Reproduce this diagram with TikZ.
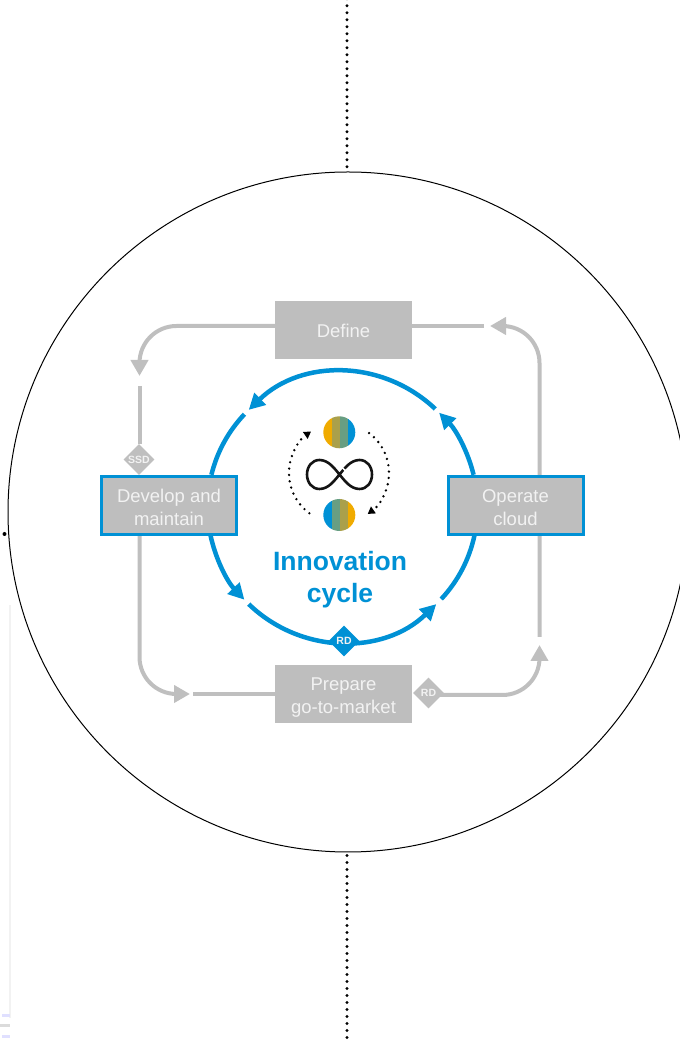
\documentclass[tikz,border=0pt]{standalone}
\usepackage{fontspec}
\setmainfont{Liberation Sans}
\usetikzlibrary{arrows.meta,shapes.geometric,calc}
\definecolor{sapblue}{HTML}{0091D5}
\definecolor{boxgray}{HTML}{BEBEBE}
\definecolor{linegray}{HTML}{BFBFBF}
\definecolor{boxtext}{HTML}{F2F2F2}
\newcommand{\boxlines}[2]{\raisebox{\dimexpr-#1pt-4.5pt\relax}[0pt][0pt]{\parbox[c]{130pt}{\centering #2}}}
\tikzset{
  x=1pt,y=1pt,
  stagebox/.style={rectangle,fill=boxgray,text=boxtext,inner sep=0pt,outer sep=0pt,align=center,minimum width=137pt,minimum height=58pt,font=\fontsize{18.5}{23}\selectfont},
  activebox/.style={stagebox,draw=sapblue,line width=3pt,minimum width=135pt},
  gline/.style={draw=linegray,line width=4pt},
  gtip/.style={gline,-{Triangle[length=16pt,width=17pt,fill=linegray]},rounded corners=37pt},
  bline/.style={draw=sapblue,line width=4.5pt},
  btip/.style={bline,-{Triangle[length=16pt,width=16pt,fill=sapblue]}},
  tag/.style={diamond,aspect=1,inner sep=0pt,minimum width=31pt,minimum height=31pt,text=boxtext,font=\bfseries\fontsize{10.5}{10.5}\selectfont},
  vdots/.style={draw=black,line width=3.2pt,line cap=round,dash pattern=on 0pt off 7pt},
  cdots/.style={draw=black,line width=2.6pt,line cap=round,dash pattern=on 0pt off 6.4pt},
  ctip/.style={cdots,-{Triangle[length=7pt,width=8pt,fill=black]}},
}
\begin{document}
\begin{tikzpicture}
\useasboundingbox (0,0) rectangle (680,1042);
\clip (0,0) rectangle (680,1042);
% stray fragments at the left edge
\fill[black] (4.5,508) circle (2);
\draw[color=black!5,line width=1.5pt] (10,437) -- (10,24);
\fill[blue!12] (2,25) rectangle (10,28);
\fill[black!14] (0,15) rectangle (10,18);
\fill[blue!12] (2,4) rectangle (10,7);
% outer ring and dotted lines
\node[circle,draw=black,line width=1pt,inner sep=0pt,minimum size=680pt] (ring) at (348,530) {};
\coordinate (vtop) at (347,1043.3);
\coordinate (vbot) at (347,0);
\draw[vdots] (vtop) -- (vtop |- ring.north);
\draw[vdots] ([yshift=-3pt]vbot |- ring.south) -- (vbot);
% nodes
\coordinate (bc) at (342.5,535);
\coordinate (a1) at ([shift={(13.8:135)}]bc);
\coordinate (a2) at ([shift={(44.3:135)}]bc);
\coordinate (a3) at ([shift={(46.6:135)}]bc);
\coordinate (a4) at ([shift={(134:135)}]bc);
\coordinate (a5) at ([shift={(136.6:135)}]bc);
\coordinate (a6) at ([shift={(166.2:135)}]bc);
\coordinate (a7) at ([shift={(191.8:135)}]bc);
\coordinate (a8) at ([shift={(223.4:135)}]bc);
\coordinate (a9) at ([shift={(226:135)}]bc);
\coordinate (a10) at ([shift={(314:135)}]bc);
\coordinate (a11) at ([shift={(317:135)}]bc);
\coordinate (a12) at ([shift={(348:135)}]bc);
% blue cycle
\draw[btip] (a1) to[bend right=15.25,looseness=.87] (a2);
\draw[btip] (a3) to[bend right=43.7] (a4);
\draw[bline] (a5) to[bend right=14.8,looseness=.87] (a6);
\draw[btip] (a7) to[bend right=15.8,looseness=.87] (a8);
\draw[btip] (a9) to[bend right=44] (a10);
\draw[bline] (a11) to[bend right=15.5,looseness=.87] (a12);
% grey flow end points
\coordinate (d1) at (275,716);
\coordinate (t1) at (139.5,666);
\coordinate (s2) at (139.5,656);
\coordinate (s3) at (139.5,507);
\coordinate (t3) at (190,348);
\coordinate (s4) at (193,348);
\coordinate (e5) at (440,347);
\coordinate (t5) at (539.5,397);
\coordinate (s6) at (539.5,405);
\coordinate (t6) at (490,716);
\coordinate (s7) at (484,716);
\coordinate (d2) at (412,716);
\coordinate (e2) at (139.5,536);
\node[tag,fill=linegray] (ssd) at (139,582.5) {SSD};
\node[tag,fill=linegray] (rdg) at (428.5,349) {RD};
\draw[gtip] (d1) -| (t1);
\draw[gline] (s2) -- (ssd.north -| s2);
\draw[gline] (ssd.south -| s2) -- (e2);
\draw[gtip] (s3) |- (t3);
\draw[gline] (s4) -- (275,348);
\draw[gtip] (e5) -| (t5);
\draw[gtip] (s6) |- (t6);
\draw[gline] (s7) -- (d2);
\node[stagebox] (def) at (343.5,712) {\boxlines{1}{Define}};
\node[activebox] (dev) at (169,536.5) {\boxlines{2}{Develop and\\maintain}};
\node[activebox] (op) at (515.5,536.5) {\boxlines{2}{Operate\\cloud}};
\node[stagebox] (pre) at (343.5,348) {\boxlines{3.5}{Prepare\\go-to-market}};
\node[tag,fill=sapblue] (rdb) at (344,401) {RD};
% title
\node[text=sapblue,align=center,font=\bfseries\fontsize{26.5}{32}\selectfont] (title) at (340,462) {Innovation\\cycle};
% infinity
\begin{scope}[shift={(339.5,567.5)}]
\draw[color=black!92,line width=2.6pt] (0,0) .. controls (5,6) and (11,14.5) .. (20,14.5) .. controls (27.5,14.5) and (32.5,8) .. (32.5,0) .. controls (32.5,-8) and (27.5,-14.5) .. (20,-14.5) .. controls (11,-14.5) and (5,-6) .. (0,0) .. controls (-5,6) and (-11,14.5) .. (-20,14.5) .. controls (-27.5,14.5) and (-32.5,8) .. (-32.5,0) .. controls (-32.5,-8) and (-27.5,-14.5) .. (-20,-14.5) .. controls (-11,-14.5) and (-5,-6) .. (0,0) -- cycle;
\draw[white,line width=1.5pt] (2,7.5) -- (6.8,3);
\end{scope}
% striped discs
\begin{scope}
\clip (339.3,609.7) circle (16);
\fill[color={rgb,255:red,240;green,171;blue,0}] (323,593) rectangle (331.5,626);
\fill[color={rgb,255:red,170;green,160;blue,75}] (331.5,593) rectangle (339.5,626);
\fill[color={rgb,255:red,104;green,158;blue,130}] (339.5,593) rectangle (347.5,626);
\fill[color=sapblue] (347.5,593) rectangle (356,626);
\end{scope}
\begin{scope}
\clip (339.3,527) circle (16);
\fill[color=sapblue] (323,510) rectangle (331.5,544);
\fill[color={rgb,255:red,104;green,158;blue,130}] (331.5,510) rectangle (339.5,544);
\fill[color={rgb,255:red,170;green,160;blue,75}] (339.5,510) rectangle (347.5,544);
\fill[color={rgb,255:red,240;green,171;blue,0}] (347.5,510) rectangle (356,544);
\end{scope}
% dotted circular arrows
\coordinate (cc) at (339,569);
\coordinate (l1) at ([shift={(233.6:50)}]cc);
\coordinate (r1) at ([shift={(53:50)}]cc);
\draw[ctip] (l1) arc[start angle=233.6,end angle=124,radius=50];
\draw[ctip] (r1) arc[start angle=53,end angle=-55,radius=50];
\end{tikzpicture}
\end{document}
